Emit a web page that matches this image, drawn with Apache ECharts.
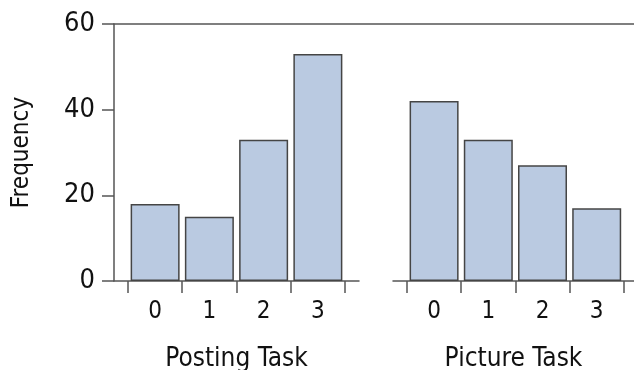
<!DOCTYPE html>
<html>
<head>
<meta charset="utf-8">
<script src="https://cdn.jsdelivr.net/npm/echarts@6/dist/echarts.min.js"></script>
<style>
html,body{margin:0;padding:0;background:#fff;}
#chart{width:634px;height:370px;}
</style>
</head>
<body>
<div id="chart"></div>
<script>
const categories = ['0', '1', '2', '3'];
const postingTask = [18, 15, 33, 53];
const pictureTask = [42, 33, 27, 17];
const yTicks = [0, 20, 40, 60];
const panelNames = ['Posting Task', 'Picture Task'];
const yName = 'Frequency';

const FONT = "'DejaVu Sans Condensed', 'Liberation Sans Narrow', 'DejaVu Sans', sans-serif";
const AXIS = '#555';
const BAR = '#bacae1';
const BORDER = '#454545';

const edges = categories.map((c, i) => i - 0.5).concat([categories.length - 0.5]);
const centers = categories.map((c, i) => i);

function xAxisFor(gridIndex, name, max) {
  return {
    type: 'value', gridIndex: gridIndex, min: -0.758, max: max,
    name: name, nameLocation: 'middle', nameGap: 65,
    nameTextStyle: {fontFamily: FONT, fontSize: 26, color: '#111'},
    axisLine: {show: true, onZero: false, lineStyle: {color: AXIS, width: 1.5}},
    axisTick: {show: true, customValues: edges, length: 12, lineStyle: {color: AXIS, width: 1.5}},
    axisLabel: {show: true, customValues: centers, margin: 19,
      fontFamily: FONT, fontSize: 24, color: '#111',
      formatter: v => categories[Math.round(v)]},
    splitLine: {show: false}
  };
}

const option = {
  animation: false,
  backgroundColor: '#fff',
  grid: [
    {left: 114, right: 0, top: 24, bottom: 89, outerBoundsMode: 'none', containLabel: false},
    {left: 114, right: 275, top: 24, bottom: 89, outerBoundsMode: 'none', containLabel: false},
    {left: 393, right: 0, top: 24, bottom: 89, outerBoundsMode: 'none', containLabel: false}
  ],
  xAxis: [
    {type: 'value', gridIndex: 0, position: 'top', min: 0, max: 1,
      axisLine: {show: true, onZero: false, lineStyle: {color: AXIS, width: 1.5}},
      axisTick: {show: false}, axisLabel: {show: false}, splitLine: {show: false}},
    xAxisFor(1, panelNames[0], 3.758),
    xAxisFor(2, panelNames[1], 3.688)
  ],
  yAxis: [
    {type: 'value', gridIndex: 0, min: 0, max: 60, show: false},
    {type: 'value', gridIndex: 1, min: yTicks[0], max: yTicks[yTicks.length - 1], interval: 20,
      name: yName, nameLocation: 'middle', nameGap: 80, nameRotate: 90,
      nameTextStyle: {fontFamily: FONT, fontSize: 24, color: '#111'},
      axisLine: {show: true, onZero: false, lineStyle: {color: AXIS, width: 1.5}},
      axisTick: {show: true, length: 12, lineStyle: {color: AXIS, width: 1.5}},
      axisLabel: {margin: 19, fontFamily: FONT, fontSize: 27, color: '#111'},
      splitLine: {show: false}},
    {type: 'value', gridIndex: 2, min: 0, max: 60, interval: 20, show: false}
  ],
  series: [
    {type: 'bar', xAxisIndex: 1, yAxisIndex: 1, barWidth: 49,
      data: postingTask.map((v, i) => [i, v]),
      itemStyle: {color: BAR, borderColor: BORDER, borderWidth: 1.5}},
    {type: 'bar', xAxisIndex: 2, yAxisIndex: 2, barWidth: 49,
      data: pictureTask.map((v, i) => [i, v]),
      itemStyle: {color: BAR, borderColor: BORDER, borderWidth: 1.5}}
  ]
};

const chart = echarts.init(document.getElementById('chart'), null, {renderer: 'canvas'});
chart.setOption(option);
</script>
</body>
</html>
